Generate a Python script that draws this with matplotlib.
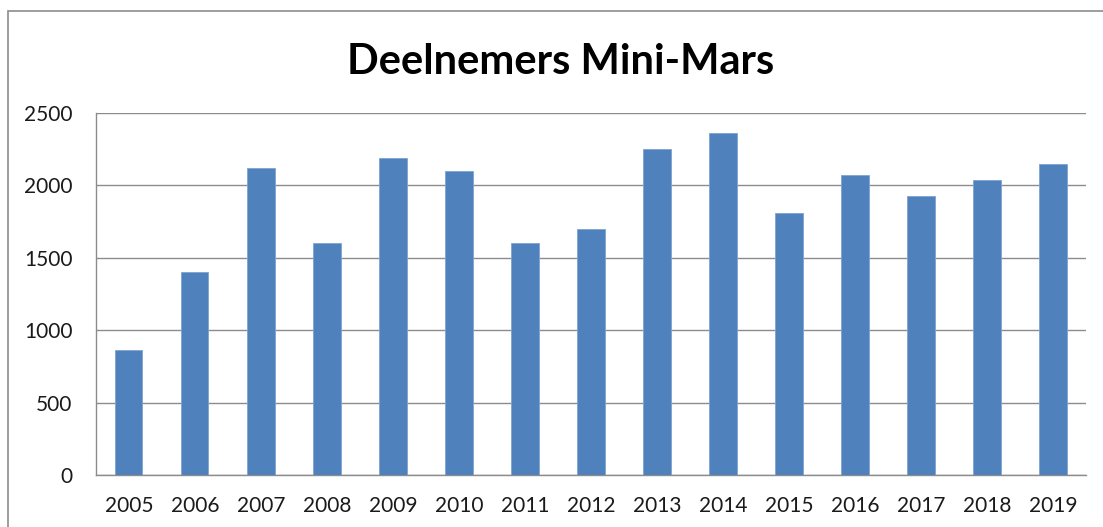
import matplotlib
matplotlib.use("Agg")
import matplotlib.pyplot as plt
from matplotlib.patches import Rectangle

# Deelnemers per jaar
jaren = ["2005", "2006", "2007", "2008", "2009", "2010", "2011", "2012",
         "2013", "2014", "2015", "2016", "2017", "2018", "2019"]
deelnemers = [860, 1400, 2120, 1600, 2190, 2100, 1600, 1700,
              2250, 2365, 1810, 2075, 1925, 2035, 2150]
y_ticks = [0, 500, 1000, 1500, 2000, 2500]

plt.rcParams['font.family'] = ['Lato', 'DejaVu Sans']

fig = plt.figure(figsize=(11.03, 5.27), dpi=100)
ax = fig.add_axes([0.087, 0.0987, 0.8976, 0.6869])

ax.bar(range(len(jaren)), deelnemers, width=0.41, color="#4f81bd",
       edgecolor="#7fa3d3", linewidth=0.6, zorder=3)

ax.set_xlim(-0.5, len(jaren) - 0.5)
ax.set_ylim(0, 2500)
ax.set_yticks(y_ticks)
ax.set_xticks(range(len(jaren)))
ax.set_xticklabels(jaren)
ax.yaxis.grid(True, color="#8c8c8c", linewidth=1.0, zorder=0)
ax.tick_params(axis="both", length=0, labelsize=15, colors="#1a1a1a")
ax.tick_params(axis="x", pad=15)
ax.tick_params(axis="y", pad=17)

for s in ["top", "right"]:
    ax.spines[s].set_visible(False)
for s in ["left", "bottom"]:
    ax.spines[s].set_color("#8c8c8c")
    ax.spines[s].set_linewidth(1.0)

fig.text(0.508, 0.883, "Deelnemers Mini-Mars", ha="center", va="center",
         fontsize=30, fontweight="bold")

# buitenrand van de grafiek
fig.patches.append(Rectangle((8 / 1103, -0.1), 1.2, 1 - 11 / 527 + 0.1,
                             transform=fig.transFigure, fill=False,
                             edgecolor="#8c8c8c", linewidth=1.2))

fig.savefig("out.png", dpi=100)
